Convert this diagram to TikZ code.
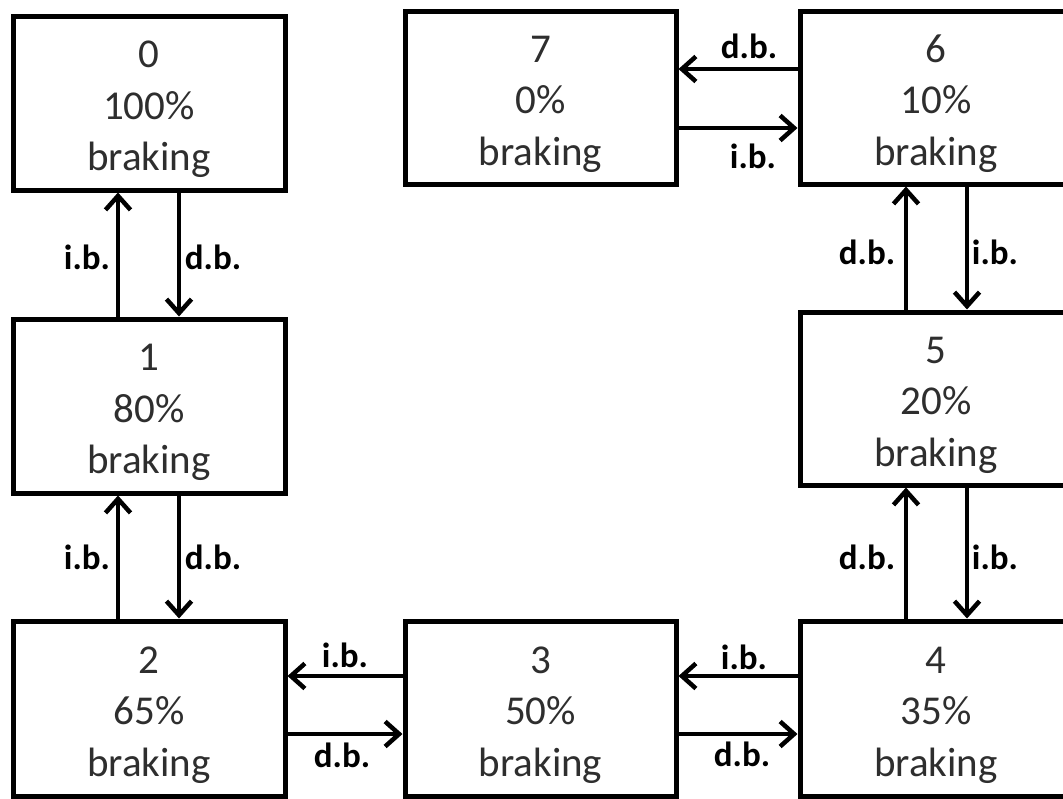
\documentclass[tikz,border=0pt]{standalone}
\usepackage{fontspec}
\setmainfont{Carlito}
\usetikzlibrary{arrows.meta}
\newcommand\myTopStrut{\rule{0pt}{40pt}}
\begin{document}
\begin{tikzpicture}[x=1pt,y=-1pt,
  box/.style={draw,line width=5pt,minimum width=272pt,minimum height=174pt,align=center,inner sep=0pt,font=\fontsize{41}{51.5}\selectfont,text=black!82},
  conn/.style={line width=4.5pt,-{Straight Barb[length=14pt,width=25pt,line width=4.5pt]}},
  lab/.style={font=\bfseries\fontsize{35}{40}\selectfont,inner sep=0pt}]
\useasboundingbox (0,0) rectangle (1063,798);
\clip (0,0) rectangle (1063,798);
% boxes
\node[box] (n0) at (149,103) {\myTopStrut 0\\100\%\\braking};
\node[box] (n1) at (149,406) {\myTopStrut 1\\80\%\\braking};
\node[box,minimum height=175pt] (n2) at (149,708.5) {\myTopStrut 2\\65\%\\braking};
\node[box,minimum width=271pt,minimum height=175pt] (n3) at (540.5,708.5) {\myTopStrut 3\\50\%\\braking};
\node[box,minimum height=175pt] (n4) at (936,708.5) {\myTopStrut 4\\35\%\\braking};
\node[box,minimum height=173pt] (n5) at (936,398.5) {\myTopStrut 5\\20\%\\braking};
\node[box,minimum height=173pt] (n6) at (936,97.5) {\myTopStrut 6\\10\%\\braking};
\node[box,minimum width=271pt,minimum height=173pt] (n7) at (540.5,97.5) {\myTopStrut 7\\0\%\\braking};
% guide coordinates
\coordinate (xL1) at (118,0);
\coordinate (xL2) at (179,0);
\coordinate (xR1) at (906,0);
\coordinate (xR2) at (967,0);
\coordinate (yB1) at (0,676);
\coordinate (yB2) at (0,734);
\coordinate (yT1) at (0,69);
\coordinate (yT2) at (0,128);
% left column
\draw[conn] (n1.north -| xL1) -- (n0.south -| xL1);
\draw[conn] (n0.south -| xL2) -- (n1.north -| xL2);
\draw[conn] (n2.north -| xL1) -- (n1.south -| xL1);
\draw[conn] (n1.south -| xL2) -- (n2.north -| xL2);
% bottom row
\draw[conn] (n3.west |- yB1) -- (n2.east |- yB1);
\draw[conn] (n2.east |- yB2) -- (n3.west |- yB2);
\draw[conn] (n4.west |- yB1) -- (n3.east |- yB1);
\draw[conn] (n3.east |- yB2) -- (n4.west |- yB2);
% right column
\draw[conn] (n4.north -| xR1) -- (n5.south -| xR1);
\draw[conn] (n5.south -| xR2) -- (n4.north -| xR2);
\draw[conn] (n5.north -| xR1) -- (n6.south -| xR1);
\draw[conn] (n6.south -| xR2) -- (n5.north -| xR2);
% top row
\draw[conn] (n6.west |- yT1) -- (n7.east |- yT1);
\draw[conn] (n7.east |- yT2) -- (n6.west |- yT2);
% labels
\node[lab] (l01i) at (87,257) {i.b.};
\node[lab] (l01d) at (213,257) {d.b.};
\node[lab] (l12i) at (87,557) {i.b.};
\node[lab] (l12d) at (213,557) {d.b.};
\node[lab] (l23i) at (345,655) {i.b.};
\node[lab] (l23d) at (342,755) {d.b.};
\node[lab] (l34i) at (744,657) {i.b.};
\node[lab] (l34d) at (742,754) {d.b.};
\node[lab] (l45d) at (867,557) {d.b.};
\node[lab] (l45i) at (995,557) {i.b.};
\node[lab] (l56d) at (867,252) {d.b.};
\node[lab] (l56i) at (995,252) {i.b.};
\node[lab] (l67d) at (749,46) {d.b.};
\node[lab] (l67i) at (753,156) {i.b.};
\end{tikzpicture}
\end{document}
